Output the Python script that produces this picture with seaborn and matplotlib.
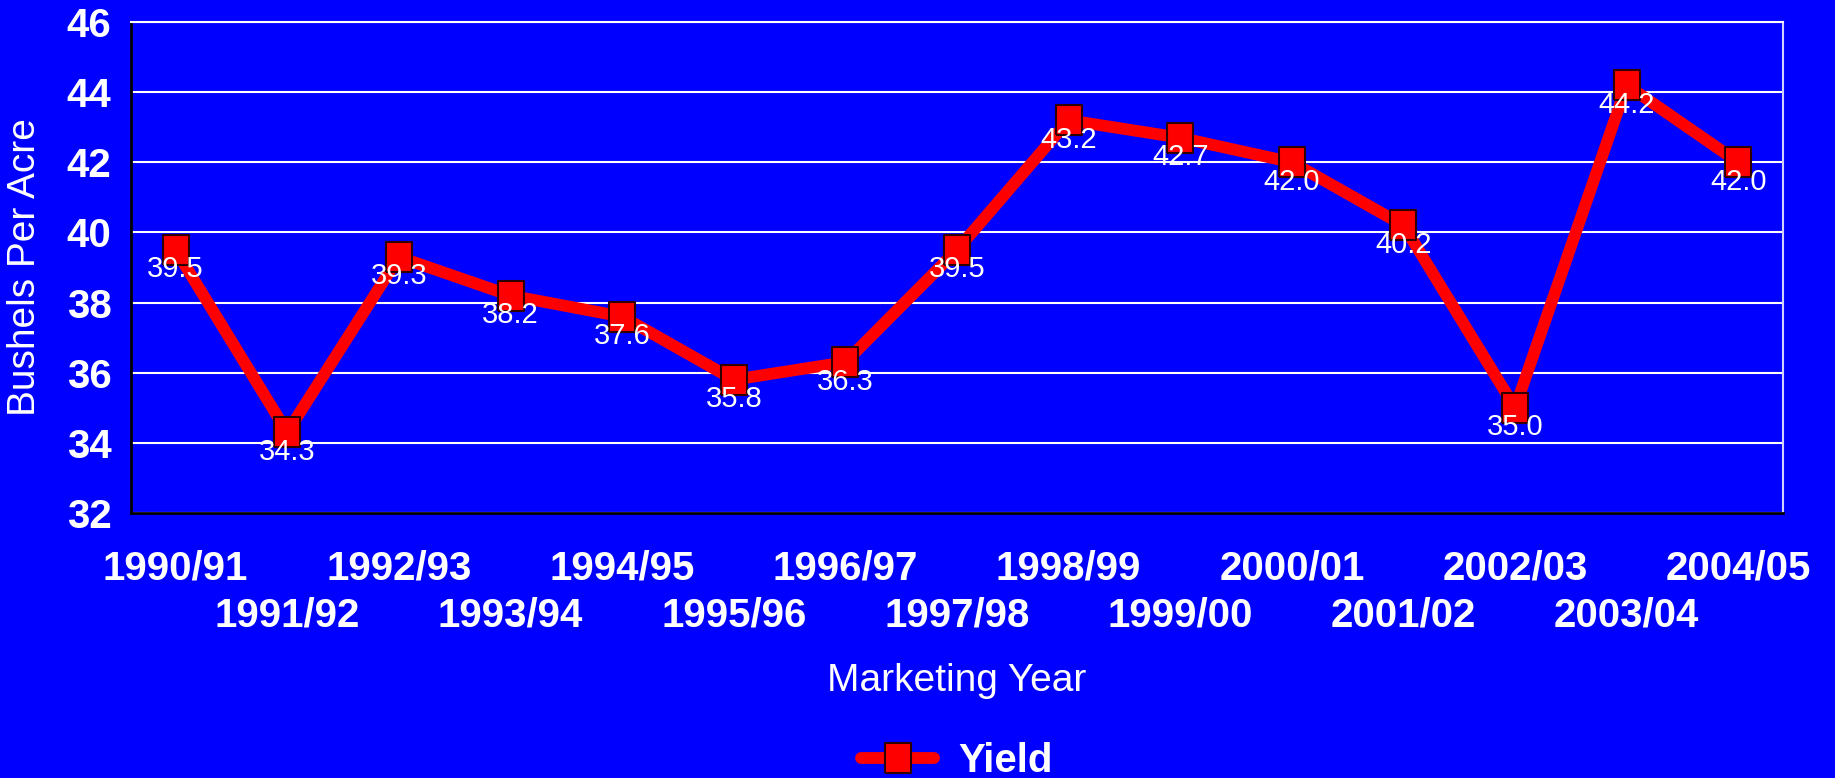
import numpy as np
import pandas as pd
import matplotlib
matplotlib.use("Agg")
import matplotlib.pyplot as plt
import matplotlib.transforms as mtransforms
import seaborn as sns

sns.set_theme(style="white")
plt.rcParams['font.family'] = ['Liberation Sans', 'DejaVu Sans']

# data
years = ["1990/91", "1991/92", "1992/93", "1993/94", "1994/95", "1995/96", "1996/97",
         "1997/98", "1998/99", "1999/00", "2000/01", "2001/02", "2002/03", "2003/04", "2004/05"]
yields = [39.5, 34.3, 39.3, 38.2, 37.6, 35.8, 36.3, 39.5, 43.2, 42.7, 42.0, 40.2, 35.0, 44.2, 42.0]
y_ticks = [32, 34, 36, 38, 40, 42, 44, 46]

df = pd.DataFrame({"pos": np.arange(len(years)), "Yield": yields})

bg = "#0000FF"
fig = plt.figure(figsize=(18.35, 7.78), dpi=100, facecolor=bg)
ax = fig.add_axes([131 / 1835, 1 - 513 / 778, (1783 - 131) / 1835, (513 - 22) / 778])
ax.set_facecolor(bg)

# slightly tall rectangle marker like the original
rect = [(-0.85, -1), (0.85, -1), (0.85, 1), (-0.85, 1), (-0.85, -1)]
sns.lineplot(data=df, x="pos", y="Yield", ax=ax, color="#FF0000", linewidth=8.5,
             marker=rect, markersize=22, markerfacecolor="#FF0000",
             markeredgecolor="#300000", markeredgewidth=1.5, label="Yield", zorder=5)

# value labels just under each marker
for x, v in zip(df["pos"], df["Yield"]):
    ax.annotate(f"{v:.1f}", (x, v), xytext=(0, -14), textcoords="offset points",
                ha="center", va="center", color="white", fontsize=21, zorder=6)

ax.set_xlim(-0.4, len(years) - 0.6)
ax.set_ylim(32, 46)
ax.set_yticks(y_ticks)
ax.set_yticklabels([str(t) for t in y_ticks], fontsize=29, fontweight="bold", color="white")
ax.set_xticks(df["pos"])
ax.set_xticklabels(years, fontsize=29, fontweight="bold", color="white")
ax.tick_params(axis="x", length=0, pad=26)
ax.tick_params(axis="y", length=0, pad=14)

# stagger every other year label onto a second row
shift = mtransforms.ScaledTranslation(0, -47 / 100, fig.dpi_scale_trans)
for i, lab in enumerate(ax.get_xticklabels()):
    if i % 2 == 1:
        lab.set_transform(lab.get_transform() + shift)

ax.grid(axis="y", color="white", linewidth=1.5)
ax.set_axisbelow(True)
for side in ["left", "bottom"]:
    ax.spines[side].set_color("black")
    ax.spines[side].set_linewidth(2)
ax.spines["right"].set_color("#D0D0FF")
ax.spines["right"].set_linewidth(1.5)
ax.spines["top"].set_color("white")
ax.spines["top"].set_linewidth(1.5)

ax.set_ylabel("Bushels Per Acre", fontsize=28, color="white")
ax.yaxis.set_label_coords(-0.053, 0.5)
ax.set_xlabel("Marketing Year", fontsize=28, color="white")
ax.xaxis.set_label_coords(0.5, -0.305)

leg = ax.legend(loc="center", bbox_to_anchor=(0.5, -0.505), frameon=False,
                handlelength=1.8, handletextpad=0.6, prop={"size": 29, "weight": "bold"})
for t in leg.get_texts():
    t.set_color("white")

fig.savefig("out.png", dpi=100, facecolor=bg)
